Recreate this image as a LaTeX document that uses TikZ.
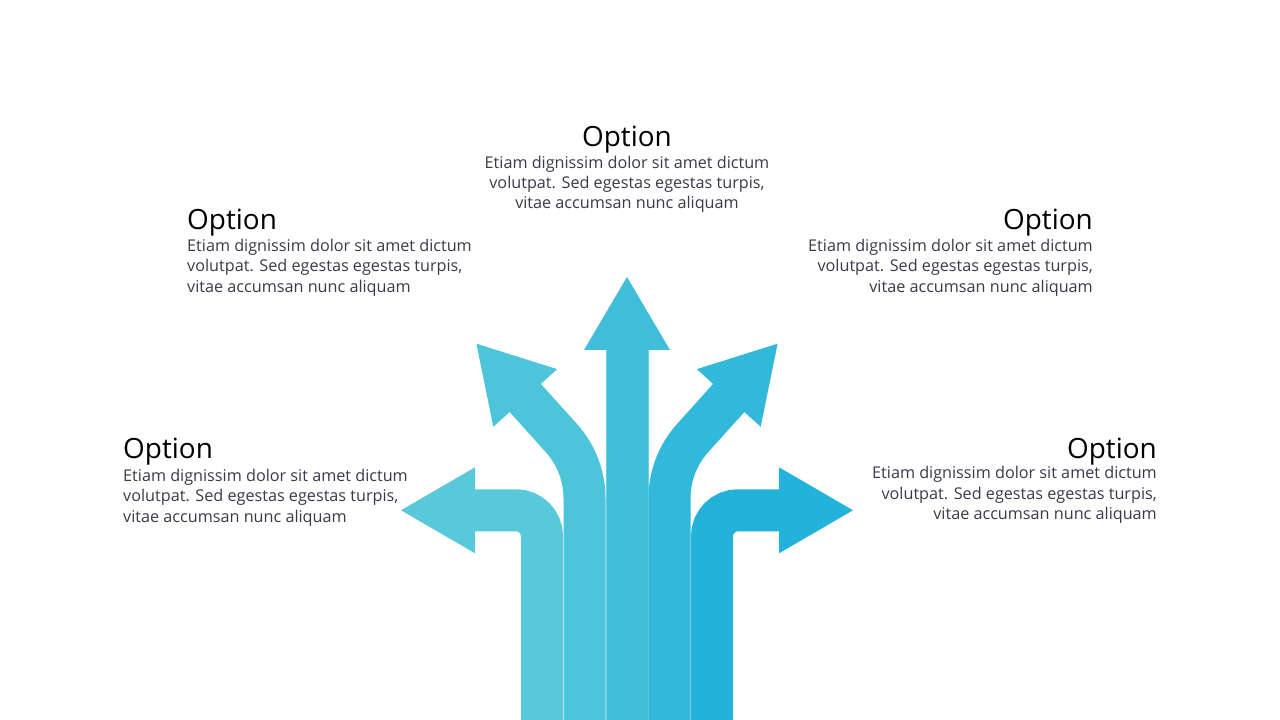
\documentclass[tikz,border=0pt]{standalone}
\usepackage{fontspec}
\setmainfont{Open Sans}
\usetikzlibrary{positioning}
\definecolor{bandA}{HTML}{5AC8DB}
\definecolor{bandB}{HTML}{4CC4DA}
\definecolor{bandC}{HTML}{3FBDD9}
\definecolor{bandD}{HTML}{31B8DB}
\definecolor{bandE}{HTML}{23B2DA}
\definecolor{edgeC}{HTML}{6CD0E4}
\definecolor{textgray}{HTML}{3A3A4A}
\tikzset{band/.style = {line width = 42, line cap = butt}}
\tikzset{opttitle/.style = {inner sep = 0, font = \fontsize{27.9}{32}\selectfont}}
\tikzset{opttext/.style = {inner sep = 0, text = textgray,
                           font = \fontsize{16.2}{20.3}\selectfont}}
\begin{document}
\begin{tikzpicture}[x = 1pt, y = 1pt]
    \useasboundingbox [fill = white] (0, 0) rectangle (1280, 720);
    % left
    \draw [band, bandA] (542, 0) -- (542, 183.7) arc (0:90:26) -- (473, 209.7);
    \fill [bandA] (475, 252.7) -- (401, 209.7) -- (475, 166.7) -- cycle;
    % up left
    \draw [band, bandB] (584.5, 0) -- (584.5, 221.7) arc (0:42:90)
      -- ++(132:56) coordinate (ul);
    \begin{scope}[shift = {(ul)}, rotate = 132]
      \fill [bandB] (-2, 43) -- (71, 0) -- (-2, -43) -- cycle;
    \end{scope}
    % up
    \fill [bandC] (606, 0) -- (606, 370) -- (584, 370) -- (627, 443)
      -- (670, 370) -- (648, 370) -- (648, 0) -- cycle;
    \draw [edgeC, line width = 0.6] (606, 0) -- (606, 370);
    \draw [edgeC, line width = 0.6] (648, 0) -- (648, 370);
    % up right
    \draw [band, bandD] (669.5, 0) -- (669.5, 221.7) arc (180:138:90)
      -- ++(48:56) coordinate (ur);
    \begin{scope}[shift = {(ur)}, rotate = 48]
      \fill [bandD] (-2, 43) -- (71, 0) -- (-2, -43) -- cycle;
    \end{scope}
    % right
    \draw [band, bandE] (712, 0) -- (712, 183.7) arc (180:90:26) -- (781, 209.7);
    \fill [bandE] (779, 252.7) -- (853, 209.7) -- (779, 166.7) -- cycle;

    % texts
    \node [opttitle, anchor = base] (topT) at (627, 573) {Option};
    \node [opttext, anchor = base, align = center] (topB) at (627, 511)
      {Etiam dignissim dolor sit amet dictum\\ volutpat. Sed egestas egestas turpis,\\ vitae accumsan nunc aliquam};
    \node [opttitle, anchor = base west] (ulT) at (187, 490) {Option};
    \node [opttext, anchor = base west, align = left] (ulB) at (187, 427.9)
      {Etiam dignissim dolor sit amet dictum\\ volutpat. Sed egestas egestas turpis,\\ vitae accumsan nunc aliquam};
    \node [opttitle, anchor = base east] (urT) at (1093, 490) {Option};
    \node [opttext, anchor = base east, align = right] (urB) at (1093, 427.9)
      {Etiam dignissim dolor sit amet dictum\\ volutpat. Sed egestas egestas turpis,\\ vitae accumsan nunc aliquam};
    \node [opttitle, anchor = base west] (lT) at (123, 261) {Option};
    \node [opttext, anchor = base west, align = left] (lB) at (123, 197.9)
      {Etiam dignissim dolor sit amet dictum\\ volutpat. Sed egestas egestas turpis,\\ vitae accumsan nunc aliquam};
    \node [opttitle, anchor = base east] (rT) at (1157, 261.8) {Option};
    \node [opttext, anchor = base east, align = right] (rB) at (1157, 200.4)
      {Etiam dignissim dolor sit amet dictum\\ volutpat. Sed egestas egestas turpis,\\ vitae accumsan nunc aliquam};
  \end{tikzpicture}
\end{document}
